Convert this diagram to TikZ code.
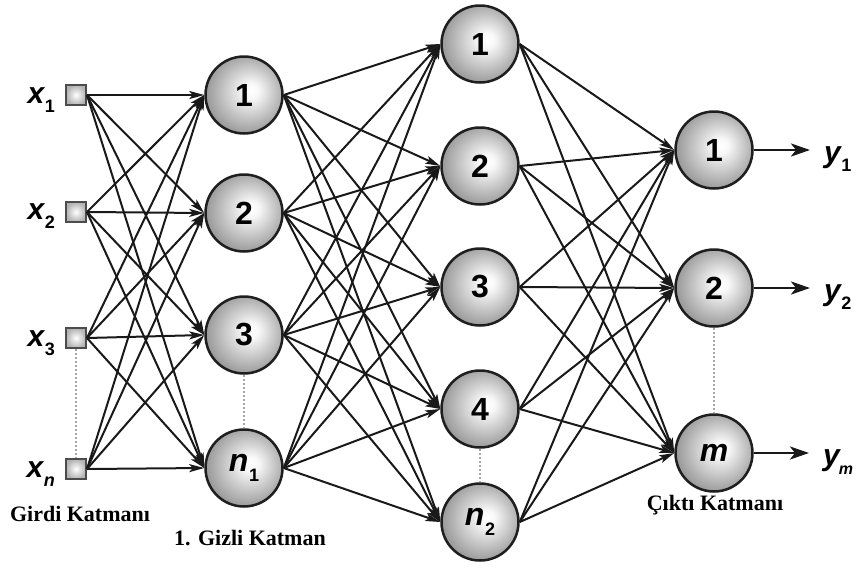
\documentclass[tikz,border=0pt]{standalone}
\usepackage{fontspec}
\setmainfont{Liberation Serif}
\newfontfamily\arialf{Liberation Sans}
\usetikzlibrary{arrows.meta}

% shaded sphere look for the neurons, highlight a little right of centre
\pgfdeclareradialshading{neuronshade}{\pgfpoint{5bp}{3bp}}{%
  color(0bp)=(white); color(5bp)=(white!97!black);
  color(30bp)=(black!45); color(50bp)=(black!45)}
% soft gradient for the input boxes
\pgfdeclareradialshading{inputshade}{\pgfpoint{0bp}{0bp}}{%
  color(0bp)=(white); color(25bp)=(black!30); color(50bp)=(black!30)}

\tikzset{
  neuron/.style={circle, minimum size=77pt, inner sep=0pt, draw=black!88,
    line width=2.5pt, shading=neuronshade,
    font=\arialf\bfseries\fontsize{32}{32}\selectfont},
  inbox/.style={rectangle, minimum size=20pt, inner sep=0pt,
    draw=black!70, line width=2pt, shading=inputshade},
  conn/.style={line width=2pt, draw=black!90,
    -{Stealth[length=15pt,width=8pt,inset=3.5pt]}},
  outarrow/.style={line width=2.8pt, draw=black!90, shorten >=14pt,
    -{Stealth[length=19pt,width=13pt,inset=5pt]}},
  gapdots/.style={line width=2.2pt, draw=black!35,
    dash pattern=on 2pt off 2pt},
  varlabel/.style={inner sep=0pt, font=\arialf\bfseries\itshape\fontsize{30}{30}\selectfont},
  layerlabel/.style={inner sep=0pt, font=\bfseries\fontsize{22}{22}\selectfont}
}
\newcommand{\lowsub}[1]{\kern0.5pt\raisebox{-0.3em}{\fontsize{18}{18}\selectfont #1}}
\newcommand{\lowdigit}[1]{\lowsub{\upshape #1}}

\begin{document}
\begin{tikzpicture}[x=1pt,y=-1pt]
\useasboundingbox (0,0) rectangle (857,568);

% input layer
\node[inbox] (i1) at (76,95) {};
\node[inbox] (i2) at (76,212) {};
\node[inbox] (i3) at (76,338) {};
\node[inbox] (in) at (76,469) {};

% first hidden layer
\node[neuron] (h1) at (244,95) {1};
\node[neuron] (h2) at (244,213) {2};
\node[neuron] (h3) at (244,335) {3};
\node[neuron] (hn) at (244,468) {\itshape n\lowdigit{1}};

% second hidden layer
\node[neuron] (g1) at (480,44) {1};
\node[neuron] (g2) at (480,166) {2};
\node[neuron] (g3) at (480,287) {3};
\node[neuron] (g4) at (480,409) {4};
\node[neuron] (gn) at (480,522) {\itshape n\lowdigit{2}};

% output layer
\node[neuron] (o1) at (714,150) {1};
\node[neuron] (o2) at (714,288) {2};
\node[neuron] (om) at (714,453) {\itshape m};

% input variable labels
\node[varlabel, anchor=base east] (lx1) at (55,103) {x\lowdigit{1}};
\node[varlabel, anchor=base east] (lx2) at (55,219) {x\lowdigit{2}};
\node[varlabel, anchor=base east] (lx3) at (55,346) {x\lowdigit{3}};
\node[varlabel, anchor=base east] (lxn) at (55,477) {x\lowsub{n}};

% output variable labels
\node[varlabel, anchor=base west] (ly1) at (824,162) {y\lowdigit{1}};
\node[varlabel, anchor=base west] (ly2) at (824,300) {y\lowdigit{2}};
\node[varlabel, anchor=base west] (lym) at (823,465) {y\kern-1pt\raisebox{-0.3em}{\fontsize{16}{16}\selectfont m}};

% fully connected weights
\foreach \a in {i1,i2,i3,in}
  \foreach \b in {h1,h2,h3,hn}
    \draw[conn] (\a.east) -- (\b.west);
\foreach \a in {h1,h2,h3,hn}
  \foreach \b in {g1,g2,g3,g4,gn}
    \draw[conn] (\a.east) -- (\b.west);
\foreach \a in {g1,g2,g3,g4,gn}
  \foreach \b in {o1,o2,om}
    \draw[conn] (\a.east) -- (\b.west);

% outputs
\draw[outarrow] (o1.east) -- (ly1.west |- o1.east);
\draw[outarrow] (o2.east) -- (ly2.west |- o2.east);
\draw[outarrow] (om.east) -- (lym.west |- om.east);

% omitted units
\draw[gapdots] (i3.south) -- (in.north);
\draw[gapdots] (h3.south) -- (hn.north);
\draw[gapdots] (g4.south) -- (gn.north);
\draw[gapdots] (o2.south) -- (om.north);

% layer captions
\node[layerlabel] (cap1) at (80,514) {Girdi Katmanı};
\node[layerlabel] (cap2) at (250,538) {1. Gizli Katman};
\node[layerlabel] (cap3) at (715,505) {Çıktı Katmanı};
\end{tikzpicture}
\end{document}
